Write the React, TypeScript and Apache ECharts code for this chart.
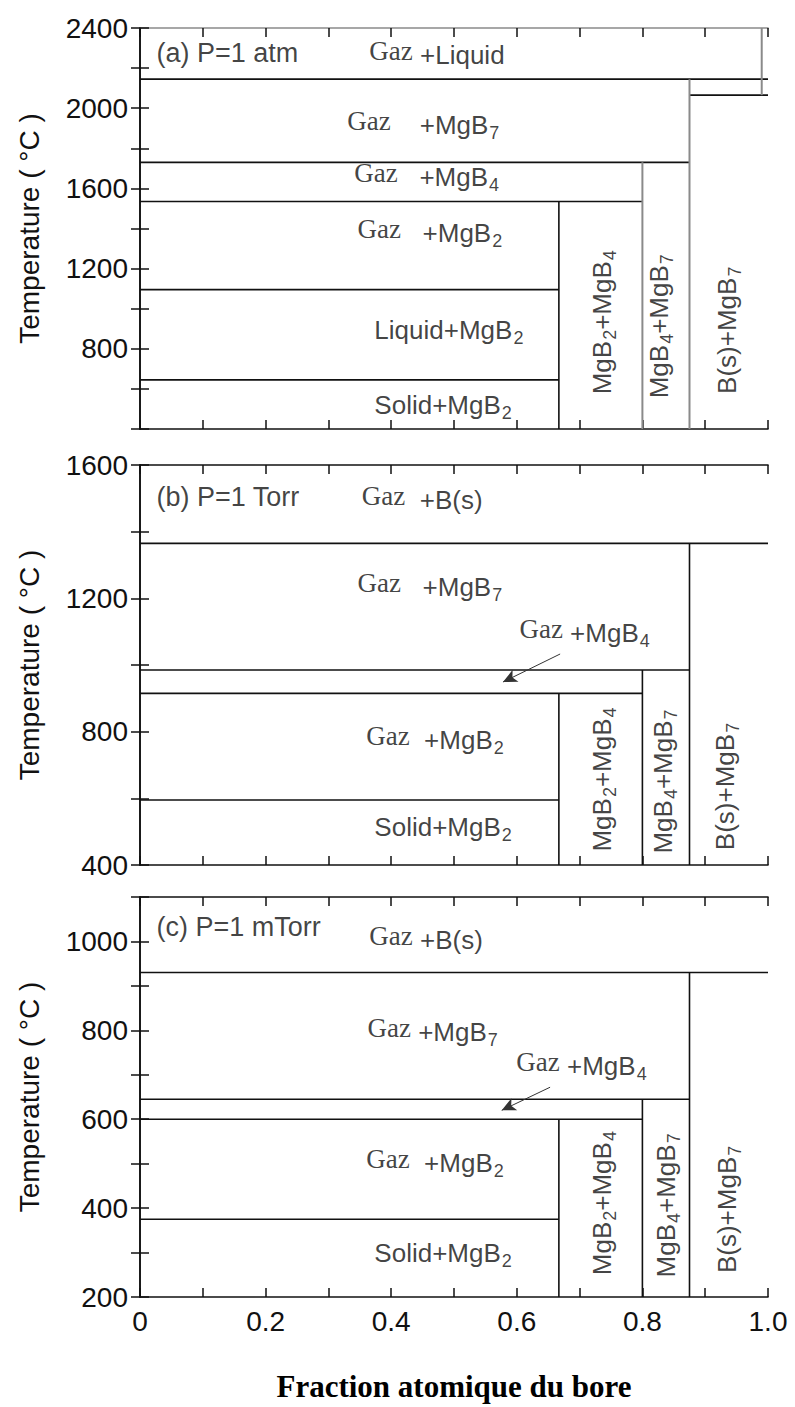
import React, { useEffect, useRef } from 'react';
import * as echarts from 'echarts';

// ---- Data ----
const xRange = [0, 1];
const yRangeA = [400, 2400];
const yRangeB = [400, 1600];
const yRangeC = [200, 1100];

// Horizontal phase boundaries: [xStart, xEnd, T]
const hLinesA = [[0, 1, 2145], [0.875, 1, 2065], [0, 0.875, 1730], [0, 0.8, 1535], [0, 0.667, 1095], [0, 0.667, 645]];
// Vertical phase boundaries: [x, Tstart, Tend]
const vLinesA = [[0.667, 400, 1535]];
const vLinesAGray = [[0.8, 400, 1730], [0.875, 400, 2145], [0.99, 2065, 2400]];

const hLinesB = [[0, 1, 1365], [0, 0.875, 985], [0, 0.8, 915], [0, 0.667, 595]];
const vLinesB = [[0.667, 400, 915], [0.8, 400, 985], [0.875, 400, 1365]];

const hLinesC = [[0, 1, 930], [0, 0.875, 645], [0, 0.8, 600], [0, 0.667, 375]];
const vLinesC = [[0.667, 200, 600], [0.8, 200, 645], [0.875, 200, 930]];

// Region labels: [x, T, text]
const labelsA: [number, number, string][] = [
  [0.027, 2275, '{h|(a) P=1 atm}'],
  [0.366, 2265, '{g|Gaz}{t| +Liquid}'],
  [0.331, 1915, '{g|Gaz}{t|    +MgB}{s|7}'],
  [0.342, 1655, '{g|Gaz}{t|   +MgB}{s|4}'],
  [0.347, 1375, '{g|Gaz}{t|   +MgB}{s|2}'],
  [0.374, 890, '{t|Liquid+MgB}{s|2}'],
  [0.374, 515, '{t|Solid+MgB}{s|2}'],
];
const vLabelsA: [number, number, string][] = [
  [0.737, 930, '{t|MgB}{s|2}{t|+MgB}{s|4}'],
  [0.828, 910, '{t|MgB}{s|4}{t|+MgB}{s|7}'],
  [0.936, 890, '{t|B(s)+MgB}{s|7}'],
];
const labelsB: [number, number, string][] = [
  [0.027, 1504, '{h|(b) P=1 Torr}'],
  [0.354, 1495, '{g|Gaz}{t|  +B(s)}'],
  [0.347, 1234, '{g|Gaz}{t|   +MgB}{s|7}'],
  [0.605, 1096, '{g|Gaz}{t| +MgB}{s|4}'],
  [0.361, 775, '{g|Gaz}{t|  +MgB}{s|2}'],
  [0.374, 514, '{t|Solid+MgB}{s|2}'],
];
const vLabelsB: [number, number, string][] = [
  [0.737, 655, '{t|MgB}{s|2}{t|+MgB}{s|4}'],
  [0.833, 649, '{t|MgB}{s|4}{t|+MgB}{s|7}'],
  [0.932, 634, '{t|B(s)+MgB}{s|7}'],
];
const labelsC: [number, number, string][] = [
  [0.027, 1032, '{h|(c) P=1 mTorr}'],
  [0.366, 1003, '{g|Gaz}{t| +B(s)}'],
  [0.363, 795, '{g|Gaz}{t| +MgB}{s|7}'],
  [0.600, 718, '{g|Gaz}{t| +MgB}{s|4}'],
  [0.361, 500, '{g|Gaz}{t|  +MgB}{s|2}'],
  [0.374, 298, '{t|Solid+MgB}{s|2}'],
];
const vLabelsC: [number, number, string][] = [
  [0.737, 410, '{t|MgB}{s|2}{t|+MgB}{s|4}'],
  [0.839, 405, '{t|MgB}{s|4}{t|+MgB}{s|7}'],
  [0.935, 396, '{t|B(s)+MgB}{s|7}'],
];

// Arrows: [[x1, T1], [x2, T2]]
const arrowB = [[0.669, 1033], [0.578, 949]];
const arrowC = [[0.653, 672], [0.576, 620]];

const yAxisTitle = 'Temperature ( °C )';
const xAxisTitle = 'Fraction atomique du bore';

// ---- Styling ----
const INK = '#111';
const GRAY = '#8a8a8a';
const SANS = 'Liberation Sans';
const SERIF = 'Liberation Serif';

const rich = {
  t: { fontFamily: SANS, fontSize: 26, color: INK },
  h: { fontFamily: SANS, fontSize: 27, color: INK },
  g: { fontFamily: SERIF, fontSize: 27, color: INK, padding: [0, 0, 8, 0] },
  s: { fontFamily: SANS, fontSize: 18, color: INK, padding: [16, 0, 0, 1] },
};

const grids = [
  { left: 140, top: 28, width: 628, height: 401 },
  { left: 140, top: 465, width: 628, height: 400 },
  { left: 140, top: 897, width: 628, height: 400 },
];

export default function App() {
  const ref = useRef<HTMLDivElement>(null);
  useEffect(() => {
    if (!ref.current) return;
    const chart = echarts.init(ref.current, null, { renderer: 'svg' });

    const yRanges = [yRangeA, yRangeB, yRangeC];
    const yIntervals = [200, 200, 100];
    const yLabelFmt = [
      (v: number) => (v % 400 === 0 && v !== 400 ? String(v) : ''),
      (v: number) => (v % 400 === 0 ? String(v) : ''),
      (v: number) => (v % 200 === 0 && v <= 1000 ? String(v) : ''),
    ];
    const xLabelFmt = (v: number) => {
      const k = Math.round(v * 10);
      if (k % 2 !== 0) return '';
      if (k === 0) return '0';
      return (k / 10).toFixed(1);
    };

    const axisLine = (c: string) => ({ show: true, lineStyle: { color: c, width: 1.6 } });
    const tick = { show: true, inside: true, length: 9, lineStyle: { color: INK, width: 1.5 } };
    const labelFont = { fontFamily: SANS, fontSize: 28, color: INK };

    const xAxes: any[] = [];
    const yAxes: any[] = [];
    for (let i = 0; i < 3; i++) {
      xAxes.push({
        type: 'value', gridIndex: i, position: 'bottom', min: xRange[0], max: xRange[1], interval: 0.1,
        axisLine: axisLine(INK), axisTick: tick, splitLine: { show: false },
        axisLabel: i === 2 ? { show: true, formatter: xLabelFmt, margin: 10, ...labelFont } : { show: false },
        ...(i === 2 ? {
          name: xAxisTitle, nameLocation: 'middle', nameGap: 72,
          nameTextStyle: { fontFamily: SERIF, fontWeight: 'bold', fontSize: 31, color: '#000', lineHeight: 34 },
        } : {}),
      });
      xAxes.push({
        type: 'value', gridIndex: i, position: 'top', min: xRange[0], max: xRange[1], interval: 0.1,
        axisLine: axisLine(i === 0 ? GRAY : INK), axisTick: tick, splitLine: { show: false },
        axisLabel: { show: false },
      });
      yAxes.push({
        type: 'value', gridIndex: i, position: 'left', min: yRanges[i][0], max: yRanges[i][1], interval: yIntervals[i],
        axisLine: axisLine(INK), axisTick: tick, splitLine: { show: false },
        axisLabel: { show: true, formatter: yLabelFmt[i], margin: 12, ...labelFont },
        name: yAxisTitle, nameLocation: 'middle', nameGap: 97,
        nameTextStyle: { fontFamily: SANS, fontSize: 28, color: INK },
      });
      yAxes.push({
        type: 'value', gridIndex: i, position: 'right', min: yRanges[i][0], max: yRanges[i][1], interval: yIntervals[i],
        axisLine: axisLine(INK), axisTick: tick, splitLine: { show: false },
        axisLabel: { show: false },
      });
    }

    const series: any[] = [];
    const seg = (i: number, data: number[][], color: string, width: number) => {
      series.push({
        type: 'line', xAxisIndex: 2 * i, yAxisIndex: 2 * i, data, symbol: 'none', silent: true,
        lineStyle: { color, width }, z: 3,
      });
    };
    const addPanel = (i: number, h: number[][], v: number[][], vg: number[][],
      labels: [number, number, string][], vlabels: [number, number, string][], arrow: number[][] | null) => {
      h.forEach(([x1, x2, y]) => seg(i, [[x1, y], [x2, y]], INK, 1.6));
      v.forEach(([x, y1, y2]) => seg(i, [[x, y1], [x, y2]], INK, 1.6));
      vg.forEach(([x, y1, y2]) => seg(i, [[x, y1], [x, y2]], GRAY, 2));
      series.push({
        type: 'scatter', xAxisIndex: 2 * i, yAxisIndex: 2 * i, symbolSize: 1, silent: true,
        itemStyle: { color: 'rgba(0,0,0,0)' },
        data: labels.map(([x, y, text]) => ({ value: [x, y], text })),
        label: {
          show: true, position: [0, 0], align: 'left', verticalAlign: 'middle',
          formatter: (p: any) => p.data.text, rich,
        },
        z: 5,
      });
      series.push({
        type: 'scatter', xAxisIndex: 2 * i, yAxisIndex: 2 * i, symbolSize: 1, silent: true,
        itemStyle: { color: 'rgba(0,0,0,0)' },
        data: vlabels.map(([x, y, text]) => ({ value: [x, y], text })),
        label: {
          show: true, position: [0, 0], align: 'center', verticalAlign: 'middle', rotate: 90,
          formatter: (p: any) => p.data.text, rich,
        },
        z: 5,
      });
      if (arrow) {
        series.push({
          type: 'line', xAxisIndex: 2 * i, yAxisIndex: 2 * i, data: [], silent: true,
          markLine: {
            silent: true, animation: false, symbol: ['none', 'arrow'], symbolSize: [10, 14],
            label: { show: false },
            lineStyle: { color: '#333', width: 1, type: 'solid' },
            data: [[{ coord: arrow[0] }, { coord: arrow[1] }]],
          },
        });
      }
    };
    addPanel(0, hLinesA, vLinesA, vLinesAGray, labelsA, vLabelsA, null);
    addPanel(1, hLinesB, vLinesB, [], labelsB, vLabelsB, arrowB);
    addPanel(2, hLinesC, vLinesC, [], labelsC, vLabelsC, arrowC);

    chart.setOption({
      animation: false,
      backgroundColor: '#fff',
      grid: grids.map((g) => ({ ...g, containLabel: false, outerBoundsMode: 'none' })),
      xAxis: xAxes,
      yAxis: yAxes,
      series,
    });
    return () => chart.dispose();
  }, []);
  return <div ref={ref} style={{ position: 'absolute', left: 0, top: 0, width: 795, height: 1407 }} />;
}
